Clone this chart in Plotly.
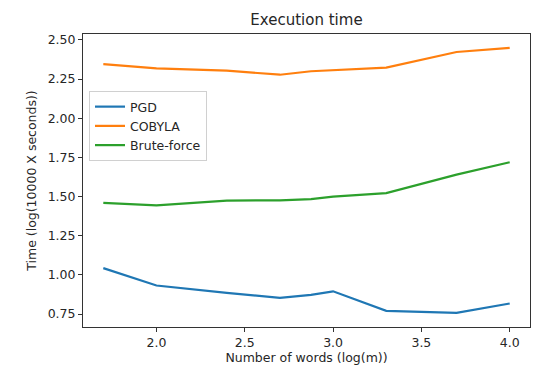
import plotly.graph_objects as go

x_logm = [1.699, 2.0, 2.398, 2.699, 2.875, 3.0, 3.301, 3.699, 4.0]
pgd = [1.043, 0.932, 0.885, 0.853, 0.872, 0.895, 0.770, 0.757, 0.817]
cobyla = [2.345, 2.318, 2.304, 2.278, 2.300, 2.306, 2.323, 2.423, 2.449]
brute = [1.460, 1.444, 1.474, 1.476, 1.484, 1.500, 1.522, 1.640, 1.719]

names = ["PGD", "COBYLA", "Brute-force"]
colors = ["#1f77b4", "#ff7f0e", "#2ca02c"]
series = [pgd, cobyla, brute]

x_ticks = [2.0, 2.5, 3.0, 3.5, 4.0]
y_ticks = [0.75, 1.00, 1.25, 1.50, 1.75, 2.00, 2.25, 2.50]

fig = go.Figure()
for n, c, s in zip(names, colors, series):
    fig.add_trace(go.Scatter(x=x_logm, y=s, mode="lines", name=n,
                             line=dict(color=c, width=2.2)))

font = "DejaVu Sans"
# page has an 8px body margin; figure is sized to fill the rest
OFF = 8
W, H = 550 - OFF, 379 - OFF
L, R, T, B = 83 - OFF, 530 - OFF, 34 - OFF, 327 - OFF
fig.update_layout(
    width=W, height=H,
    margin=dict(l=L, r=W - R, t=T, b=H - B, autoexpand=False),
    paper_bgcolor="white", plot_bgcolor="white",
    font=dict(family=font, size=12.5, color="#262626"),
    title=dict(text="Execution time", x=0.5, xanchor="center",
               xref="paper", y=1 - (20 - OFF) / H, yref="container", yanchor="middle",
               font=dict(size=15, color="#262626")),
    showlegend=True,
    legend=dict(x=(89 - OFF - L) / (R - L), y=(B - (91 - OFF)) / (B - T),
                xanchor="left", yanchor="top",
                bgcolor="rgba(255,255,255,0.8)", bordercolor="#d0d0d0", borderwidth=1,
                font=dict(size=12.5), itemwidth=30, tracegroupgap=0),
    xaxis=dict(range=[1.584, 4.115], tickvals=x_ticks, tickformat=".1f",
               showgrid=False, zeroline=False, showline=True, mirror=True,
               linecolor="#333333", linewidth=1, ticks="outside", ticklen=4,
               tickcolor="#333333", automargin=False,
               title=dict(text="Number of words (log(m))", standoff=2, font=dict(size=12.5))),
    yaxis=dict(range=[0.667, 2.538], tickvals=y_ticks, tickformat=".2f",
               showgrid=False, zeroline=False, showline=True, mirror=True,
               linecolor="#333333", linewidth=1, ticks="outside", ticklen=4,
               tickcolor="#333333", automargin=False,
               title=dict(text="Time (log(10000 X seconds))", standoff=8, font=dict(size=12.5))),
)

fig.write_html("out.html")
